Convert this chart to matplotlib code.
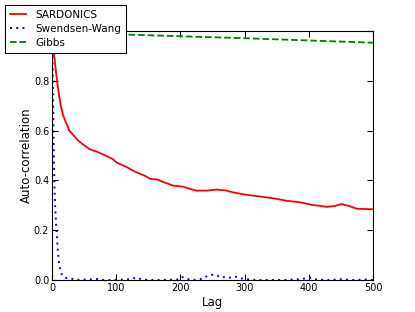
import matplotlib
matplotlib.use("Agg")
import matplotlib.pyplot as plt
import numpy as np

# SARDONICS autocorrelation
sard_lag = [0, 1, 2, 3, 4, 6, 8, 10, 13, 17, 22, 27, 35, 40, 48, 59, 70, 85, 95, 101, 115, 132, 145, 153, 163, 175, 189, 204, 215, 225, 241, 256, 270, 282, 298, 319, 345, 366, 386, 407, 428, 440, 451, 462, 475, 490, 500]
sard_val = [1.0, 0.95, 0.92, 0.905, 0.89, 0.84, 0.795, 0.76, 0.71, 0.664, 0.63, 0.6, 0.577, 0.562, 0.545, 0.525, 0.515, 0.498, 0.485, 0.471, 0.455, 0.432, 0.418, 0.406, 0.404, 0.392, 0.379, 0.375, 0.366, 0.359, 0.359, 0.363, 0.36, 0.352, 0.344, 0.337, 0.328, 0.318, 0.312, 0.301, 0.294, 0.297, 0.305, 0.298, 0.286, 0.285, 0.284]

# Swendsen-Wang autocorrelation
sw_lag = [0, 1, 2, 3, 4, 5, 6, 7, 8, 9, 10, 11, 12, 13, 15, 18, 22, 28, 35, 45, 55, 62, 70, 80, 100, 120, 127, 132, 138, 150, 170, 195, 202, 208, 220, 235, 241, 246, 254, 260, 264, 270, 280, 287, 295, 305, 320, 340, 360, 385, 398, 404, 412, 430, 450, 470, 490, 500]
sw_val = [1.0, 0.85, 0.66, 0.47, 0.36, 0.29, 0.24, 0.2, 0.16, 0.12, 0.09, 0.07, 0.055, 0.04, 0.024, 0.012, 0.008, 0.007, 0.002, 0.0, 0.003, 0.002, 0.004, 0.0, 0.0, 0.003, 0.007, 0.01, 0.004, 0.0, 0.0, 0.002, 0.013, 0.005, 0.0, 0.005, 0.015, 0.02, 0.022, 0.015, 0.017, 0.008, 0.01, 0.013, 0.006, 0.003, 0.0, 0.0, 0.0, 0.003, 0.007, 0.01, 0.002, 0.0, 0.003, 0.0, 0.002, 0.0]

# Gibbs autocorrelation
gibbs_lag = [0, 100, 200, 300, 400, 500]
gibbs_val = [0.995, 0.987, 0.979, 0.971, 0.962, 0.953]

x_ticks = [0, 100, 200, 300, 400, 500]
y_ticks = [0.0, 0.2, 0.4, 0.6, 0.8, 1.0]
y_ticklabels = ["0.0", "0.2", "0.4", "0.6", "0.8", ""]

fig = plt.figure(figsize=(4.15, 3.12), dpi=100)
ax = fig.add_axes([0.1253, 0.1026, 0.7735, 0.798])

ax.plot(sard_lag, sard_val, color="red", lw=1.3, label="SARDONICS")
ax.plot(sw_lag, sw_val, color="blue", lw=1.4, ls=(0, (1, 2.2)), label="Swendsen-Wang")
ax.plot(gibbs_lag, gibbs_val, color="green", lw=1.3, ls="--", label="Gibbs")

ax.set_xlim(0, 500)
ax.set_ylim(0, 1.0)
ax.set_xticks(x_ticks)
ax.set_yticks(y_ticks)
ax.set_yticklabels(y_ticklabels)
ax.tick_params(direction="in", top=True, right=True, labelsize=7, length=4, pad=2)
ax.set_xlabel("Lag", fontsize=8.5, labelpad=2)
ax.set_ylabel("Auto-correlation", fontsize=8.5, labelpad=1)

leg = ax.legend(loc="upper left", bbox_to_anchor=(0.012, 0.984), bbox_transform=fig.transFigure,
                fontsize=7.5, frameon=True, fancybox=False, framealpha=1, edgecolor="black",
                handlelength=1.55, handletextpad=0.9, borderpad=0.45, labelspacing=0.4,
                borderaxespad=0)
leg.get_frame().set_linewidth(0.8)

fig.savefig("out.png", dpi=100, facecolor="white")
